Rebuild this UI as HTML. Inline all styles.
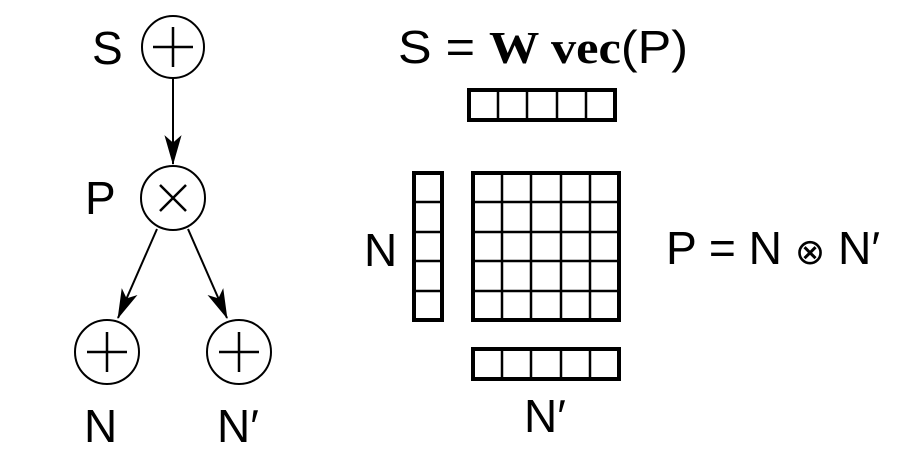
<!DOCTYPE html>
<html><head><meta charset="utf-8"><style>
html,body{margin:0;padding:0;background:#fff;}
svg{display:block;}
text{font-family:"Liberation Sans",sans-serif;fill:#000;}
</style></head><body>
<svg width="918" height="468" viewBox="0 0 918 468">
<defs>
<marker id="ah" viewBox="0 0 28 16" refX="27" refY="8" markerWidth="30" markerHeight="18" markerUnits="userSpaceOnUse" orient="auto">
<path d="M0,0 L28,8 L0,16 L7,8 Z" fill="#000"/>
</marker>
</defs>
<g stroke="#000" fill="none" stroke-width="2">
<circle cx="173" cy="47" r="31"/>
<path d="M153,47 H193 M173,27 V67" stroke-width="2.5"/>
<circle cx="173" cy="198" r="32"/>
<path d="M160,185 L186,211 M186,185 L160,211" stroke-width="2.5"/>
<circle cx="107" cy="352" r="32"/>
<path d="M87,352 H127 M107,332 V372" stroke-width="2.5"/>
<circle cx="239" cy="352" r="32"/>
<path d="M219,352 H259 M239,332 V372" stroke-width="2.5"/>
<line x1="173" y1="78" x2="173" y2="164" marker-end="url(#ah)"/>
<line x1="157" y1="229" x2="118" y2="318" marker-end="url(#ah)"/>
<line x1="188" y1="229" x2="227" y2="318" marker-end="url(#ah)"/>
</g>
<text x="92" y="64" font-size="46">S</text>
<text x="85" y="214" font-size="46">P</text>
<text x="84" y="442" font-size="46">N</text>
<text x="217" y="442" font-size="46">N′</text>

<text x="398" y="63" font-size="46" textLength="290" lengthAdjust="spacingAndGlyphs">S = <tspan font-family="Liberation Serif" font-weight="bold">W vec</tspan>(P)</text>
<text x="666" y="264" font-size="46" textLength="214" lengthAdjust="spacingAndGlyphs">P = N <tspan font-size="36">⊗</tspan> N′</text>
<text x="364" y="266" font-size="46">N</text>
<text x="524" y="432" font-size="46">N′</text>

<g stroke="#000" fill="none">
<g>
<rect x="469" y="90" width="146" height="30" stroke-width="4"/>
<path d="M498,90V120M527,90V120M557,90V120M586,90V120" stroke-width="2.5"/>
</g>
<g>
<rect x="414" y="173" width="28" height="147" stroke-width="4"/>
<path d="M414,202H442M414,232H442M414,261H442M414,291H442" stroke-width="2.5"/>
</g>
<g>
<rect x="473" y="173" width="146" height="147" stroke-width="4"/>
<path d="M502,173V320M531,173V320M561,173V320M590,173V320M473,202H619M473,232H619M473,261H619M473,291H619" stroke-width="2.5"/>
</g>
<g>
<rect x="473" y="349" width="146" height="30" stroke-width="4"/>
<path d="M502,349V379M531,349V379M561,349V379M590,349V379" stroke-width="2.5"/>
</g>
</g>
</svg>
</body></html>
